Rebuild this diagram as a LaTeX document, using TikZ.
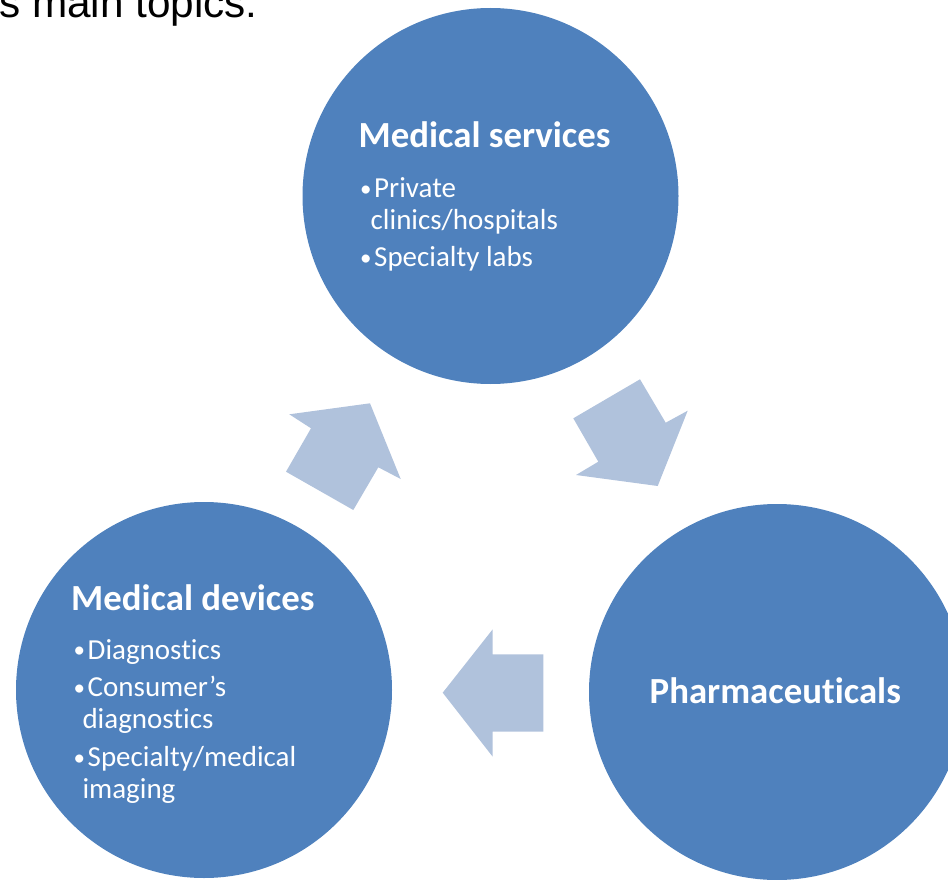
\documentclass[tikz,border=0pt]{standalone}
\usepackage{fontspec}
\setmainfont{Carlito}[Ligatures=NoCommon]
\newfontfamily\titlefont{Liberation Sans}
\definecolor{circblue}{HTML}{4F81BD}
\definecolor{arrblue}{HTML}{B0C2DC}
\newcommand{\bul}{\makebox[14pt][l]{\raisebox{1.2pt}{\fontsize{23}{23}\selectfont •}}}
\begin{document}
\begin{tikzpicture}[x=1pt,y=-1pt,
  topic/.style={circle,fill=circblue,draw=none,minimum size=376pt,inner sep=0pt},
  heading/.style={text=white,font=\fontsize{36.8}{44}\selectfont\bfseries,anchor=base west,inner sep=0pt},
  itemtext/.style={text=white,font=\fontsize{29}{35}\selectfont,anchor=base west,inner sep=0pt},
  flow/.style={fill=arrblue,draw=none}]
\useasboundingbox (0,0) rectangle (948,880);
\clip (0,0) rectangle (948,880);
\node[anchor=base west,inner sep=0pt,font=\titlefont\fontsize{42.3}{50}\selectfont] (title) at (-1,18) {s main topics:};
\node[topic] (services) at (490.5,196) {};
\node[topic] (devices) at (204,690) {};
\node[topic] (pharma) at (777,692) {};
% arrows
\fill[flow] (370,403.3) -- (400.7,479) -- (378.3,467.3) -- (353.3,510) -- (286,471.7) -- (311,428.3) -- (289.3,414.3) -- cycle;
\fill[flow] (640,379.3) -- (573.3,418.3) -- (598.3,461.7) -- (576,475) -- (657.7,486) -- (687.7,410.7) -- (665.7,422.7) -- cycle;
\fill[flow] (442.7,692.7) -- (492.7,629.3) -- (492.7,654.3) -- (543.3,654.3) -- (543.3,731.7) -- (492.7,731.7) -- (492.7,756.7) -- cycle;
% texts: medical services
\node[heading] (hs) at (358.5,147.3) {Medical services};
\node[itemtext] (s1) at (360,197.3) {\bul Private};
\node[itemtext] (s1b) at (370.5,229.3) {clinics/hospitals};
\node[itemtext] (s2) at (360,266.7) {\bul Specialty labs};
% medical devices
\node[heading] (hd) at (71,610) {Medical devices};
\node[itemtext] (d1) at (73.5,659) {\bul Diagnostics};
\node[itemtext] (d2) at (73.5,696.7) {\bul Consumer’s};
\node[itemtext] (d2b) at (82.3,728.3) {diagnostics};
\node[itemtext] (d3) at (73.5,766.7) {\bul Specialty/medical};
\node[itemtext] (d3b) at (82.3,798.3) {imaging};
% pharmaceuticals
\node[heading] (hp) at (649.5,703.3) {Pharmaceuticals};
\end{tikzpicture}
\end{document}
